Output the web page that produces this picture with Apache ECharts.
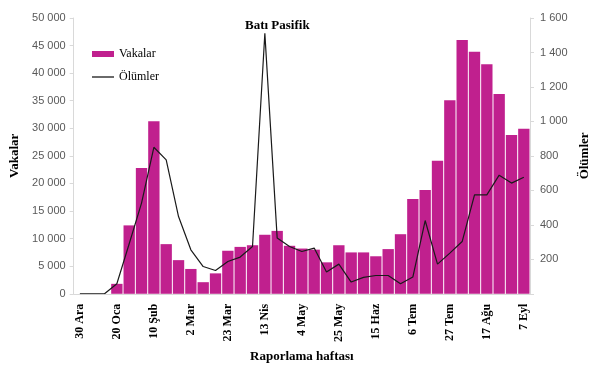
<!DOCTYPE html>
<html><head><meta charset="utf-8">
<script src="https://cdn.jsdelivr.net/npm/echarts@6/dist/echarts.min.js"></script>
<style>html,body{margin:0;padding:0;background:#fff}#c{width:605px;height:368px}</style>
</head><body><div id="c"></div>
<script>
const categories = ['30 Ara','6 Oca','13 Oca','20 Oca','27 Oca','3 Şub','10 Şub','17 Şub','24 Şub','2 Mar','9 Mar','16 Mar','23 Mar','30 Mar','6 Nis','13 Nis','20 Nis','27 Nis','4 May','11 May','18 May','25 May','1 Haz','8 Haz','15 Haz','22 Haz','29 Haz','6 Tem','13 Tem','20 Tem','27 Tem','3 Ağu','10 Ağu','17 Ağu','24 Ağu','31 Ağu','7 Eyl'];
const cases = [0,0,0,1800,12400,22800,31300,9000,6100,4500,2100,3700,7800,8500,8800,10700,11400,8700,8200,8000,5700,8800,7500,7500,6800,8100,10800,17200,18800,24100,35100,46000,43900,41600,36200,28800,29900];
const deaths = [0,0,0,58,290,526,850,777,448,255,158,135,187,213,274,1511,323,274,245,265,126,172,68,95,106,106,58,97,425,172,236,303,574,574,688,642,676];
const fmt = v => v === 0 ? '0' : String(v).replace(/\B(?=(\d{3})+(?!\d))/g, ' ');
const serif = 'Liberation Serif';
const sans = 'Liberation Sans';
const chart = echarts.init(document.getElementById('c'));
chart.setOption({
  animation: false,
  title: { text: 'Batı Pasifik', left: 240, top: 14, textStyle: { fontFamily: serif, fontWeight: 'bold', fontSize: 13, color: '#000' } },
  legend: [{
    orient: 'vertical', left: 87, top: 43, itemWidth: 22, itemHeight: 6,
    textStyle: { fontFamily: serif, fontSize: 12, color: '#000' },
    data: [{ name: 'Vakalar', icon: 'rect' }]
  }, {
    orient: 'vertical', left: 87, top: 66, itemWidth: 22, itemHeight: 1.3,
    textStyle: { fontFamily: serif, fontSize: 12, color: '#000' },
    data: [{ name: 'Ölümler', icon: 'rect' }]
  }],
  grid: { left: 73.7, right: 75, top: 18, bottom: 74 },
  xAxis: {
    type: 'category', data: categories,
    name: 'Raporlama haftası', nameLocation: 'middle', nameGap: 55,
    nameTextStyle: { fontFamily: serif, fontWeight: 'bold', fontSize: 13, color: '#000' },
    axisLine: { lineStyle: { color: '#d9d9d9' } },
    axisTick: { show: false },
    axisLabel: { interval: 2, rotate: 90, fontFamily: serif, fontWeight: 'bold', fontSize: 12, color: '#000', margin: 10 }
  },
  yAxis: [{
    type: 'value', min: 0, max: 50000, interval: 5000,
    name: 'Vakalar', nameLocation: 'middle', nameGap: 52, nameRotate: 90,
    nameTextStyle: { fontFamily: serif, fontWeight: 'bold', fontSize: 13, color: '#000' },
    axisLine: { show: true, lineStyle: { color: '#d9d9d9' } },
    axisTick: { show: true, length: 4, lineStyle: { color: '#d9d9d9' } },
    splitLine: { show: false },
    axisLabel: { formatter: fmt, fontFamily: sans, fontSize: 11, color: '#595959', margin: 8 }
  }, {
    type: 'value', min: 0, max: 1600, interval: 200,
    name: 'Ölümler', nameLocation: 'middle', nameGap: 41, nameRotate: 90,
    nameTextStyle: { fontFamily: serif, fontWeight: 'bold', fontSize: 13, color: '#000' },
    axisLine: { show: true, lineStyle: { color: '#d9d9d9' } },
    axisTick: { show: true, length: 4, lineStyle: { color: '#d9d9d9' } },
    splitLine: { show: false },
    axisLabel: { formatter: v => v === 0 ? '' : fmt(v), fontFamily: sans, fontSize: 11, color: '#595959', margin: 10 }
  }],
  series: [{
    name: 'Vakalar', type: 'bar', data: cases, barCategoryGap: '8%',
    itemStyle: { color: '#C0208E' }
  }, {
    name: 'Ölümler', type: 'line', yAxisIndex: 1, data: deaths,
    symbol: 'none', lineStyle: { color: '#1a1a1a', width: 1.2 }, itemStyle: { color: '#1a1a1a' }
  }]
});
</script></body></html>
